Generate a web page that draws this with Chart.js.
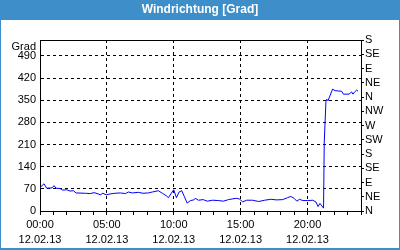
<!DOCTYPE html>
<html>
<head>
<meta charset="utf-8">
<script src="https://cdn.jsdelivr.net/npm/chart.js@4/dist/chart.umd.min.js"></script>
<style>
  html, body { margin: 0; padding: 0; background: #fff; }
  canvas { display: block; }
</style>
</head>
<body>
<canvas id="windChart" width="400" height="250"></canvas>
<script>
// Windrichtung 12.02.13 - hours since midnight and direction in degrees
const hours = [0, 0.3, 0.5, 0.9, 1.05, 1.2, 1.5, 1.7, 2.0, 2.25, 2.5, 2.7, 3.4, 3.75, 4.05, 4.35, 4.5, 4.7, 4.95,
  5.25, 5.6, 6.0, 6.4, 6.6, 6.9, 7.35, 7.7, 8.1, 8.4, 8.85, 9.15, 9.45, 9.6, 9.8, 10.0, 10.2, 10.4, 10.6, 10.8,
  11.0, 11.25, 11.5, 11.6, 11.85, 12.2, 12.5, 12.9, 13.35, 13.7, 14.1, 14.5, 14.7, 14.9, 15.15, 15.45, 15.9,
  16.35, 16.8, 17.25, 17.7, 18.15, 18.5, 18.75, 19.0, 19.2, 19.4, 19.65, 20.0, 20.4, 20.64, 20.79, 20.93, 21.2,
  21.25, 21.38, 21.44, 21.53, 21.68, 21.88, 22.06, 22.56, 22.68, 23.1, 23.3, 23.4, 23.55, 23.68, 23.78];
const degrees = [74, 86, 72, 73, 80, 72, 71, 66, 67, 63, 64, 57, 56, 55, 58, 54, 51, 56, 51,
  54, 56, 57, 55, 60, 57, 59, 56, 57, 60, 64, 56, 48, 42, 55, 67, 42, 60, 64, 45,
  25, 33, 35, 40, 34, 36, 31, 34, 33, 31, 36, 39, 40, 38, 29, 34, 34,
  30, 34, 37, 35, 36, 42, 46, 40, 31, 37, 33, 33, 34, 28, 14, 24, 9,
  216, 347, 353, 348, 364, 385, 380, 378, 369, 369, 376, 369, 377, 382, 378];

const gradTicks = [0, 70, 140, 210, 280, 350, 420, 490];
const dirLabels = ["N", "NE", "E", "SE", "S", "SW", "W", "NW", "N", "NE", "E", "SE", "S"];
const dateLabel = "12.02.13";

const font = { family: "Liberation Sans", size: 11 };

// title bar, outer frame, "Grad" caption and top frame line
const framePlugin = {
  id: "frame",
  beforeDraw(chart) {
    const ctx = chart.ctx;
    ctx.save();
    ctx.fillStyle = "#ffffff";
    ctx.fillRect(0, 0, 400, 250);
    ctx.fillStyle = "#3d8ec9";
    ctx.fillRect(0, 0, 400, 20);
    ctx.fillRect(0, 0, 1, 250);
    ctx.fillRect(399, 0, 1, 250);
    ctx.fillRect(0, 248, 400, 2);
    ctx.fillStyle = "#ffffff";
    ctx.font = "bold 12px 'Liberation Sans'";
    ctx.textAlign = "center";
    ctx.textBaseline = "middle";
    ctx.fillText("Windrichtung [Grad]", 200, 10);
    ctx.fillStyle = "#000";
    ctx.font = "11px 'Liberation Sans'";
    ctx.textAlign = "right";
    ctx.fillText("Grad", 36, 47);
    ctx.restore();
  },
  afterDraw(chart) {
    const { ctx, chartArea } = chart;
    ctx.save();
    ctx.strokeStyle = "#000";
    ctx.lineWidth = 1;
    ctx.setLineDash([]);
    ctx.beginPath();
    ctx.moveTo(chartArea.left, chartArea.top + 0.5);
    ctx.lineTo(chartArea.right + 1, chartArea.top + 0.5);
    ctx.stroke();
    ctx.restore();
  }
};

new Chart(document.getElementById("windChart"), {
  type: "line",
  data: {
    datasets: [{
      label: "Windrichtung",
      data: hours.map((h, i) => ({ x: h, y: degrees[i] })),
      borderColor: "#0000ff",
      borderWidth: 1,
      pointRadius: 0,
      tension: 0,
      yAxisID: "y"
    }]
  },
  options: {
    responsive: false,
    animation: false,
    devicePixelRatio: 1,
    layout: { padding: { top: 40, left: 0, right: 0, bottom: 0 } },
    plugins: { legend: { display: false }, tooltip: { enabled: false } },
    scales: {
      x: {
        type: "linear",
        min: 0,
        max: 24,
        afterFit: s => { s.height = 39; },
        ticks: {
          stepSize: 1,
          autoSkip: false,
          maxRotation: 0,
          padding: 3,
          color: "#000",
          font: { ...font, lineHeight: "14.5px" },
          callback: v => v % 5 === 0 ? [String(v).padStart(2, "0") + ":00", dateLabel] : ""
        },
        grid: {
          color: c => (c.tick && c.tick.value % 5 === 0 && c.tick.value > 0 && c.tick.value < 24) ? "#000" : "transparent",
          tickColor: "#000",
          tickLength: 4
        },
        border: { color: "#000", dash: [3, 3] }
      },
      y: {
        position: "left",
        min: 0,
        max: 540,
        afterFit: s => { s.width = 40; },
        afterBuildTicks: s => { s.ticks = gradTicks.map(v => ({ value: v })); },
        ticks: { padding: 4, color: "#000", font, autoSkip: false },
        grid: {
          drawTicks: false,
          color: c => (c.tick && c.tick.value > 0) ? "#000" : "transparent"
        },
        border: { color: "#000", dash: [3, 3] }
      },
      y2: {
        position: "right",
        min: 0,
        max: 540,
        afterFit: s => { s.width = 39; },
        afterBuildTicks: s => { s.ticks = dirLabels.map((d, i) => ({ value: i * 45 })); },
        ticks: {
          padding: 1,
          autoSkip: false,
          color: "#000",
          font,
          callback: (v, i) => dirLabels[i]
        },
        grid: { drawOnChartArea: false, color: "#000", tickLength: 3 },
        border: { color: "#000" }
      }
    }
  },
  plugins: [framePlugin]
});
</script>
</body>
</html>
